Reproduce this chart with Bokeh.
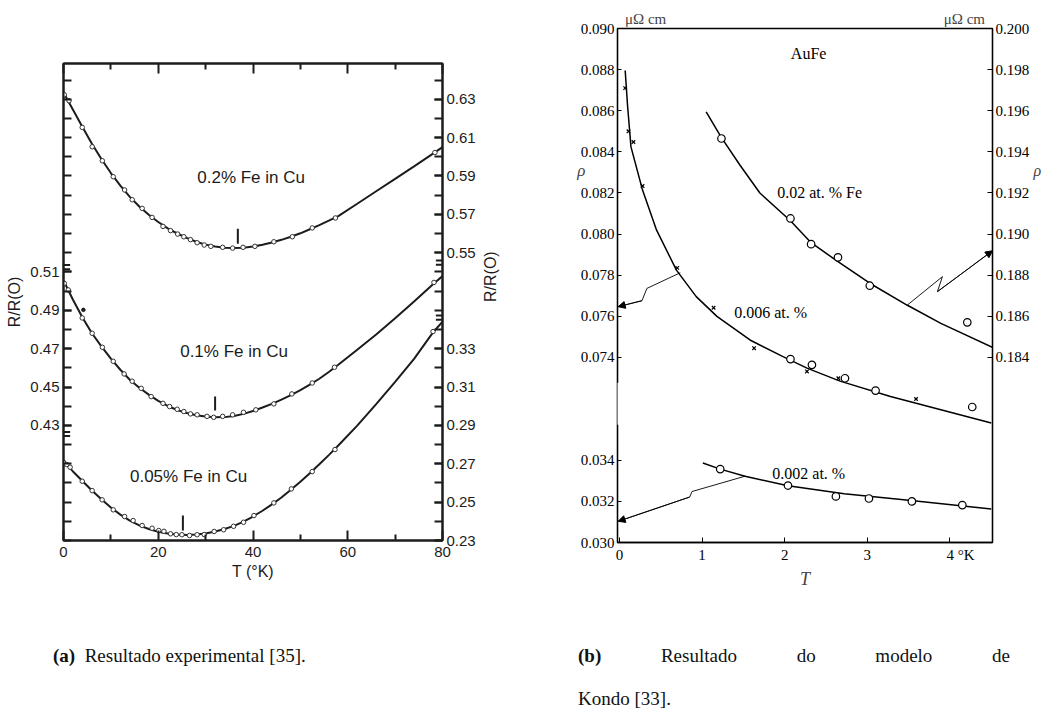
from bokeh.plotting import figure
from bokeh.models import (Range1d, LinearAxis, FixedTicker, CustomJSTickFormatter, Label,
                          Arrow, NormalHead, Div, Title)
from bokeh.layouts import column, row
from bokeh.core.properties import value
from bokeh.embed import file_html
from bokeh.resources import INLINE

# ======================= Panel (a) data: R/R(0) vs T (K) =======================
# 0.2 % Fe in Cu (right axis, upper scale)
a02_T = [0.17, 1.16, 3.95, 6.05, 8.2, 10.5, 12.9, 14.5, 16.6, 18.7, 21.0, 22.6, 24.1, 25.4,
         26.8, 28.2, 29.7, 31.1, 33.6, 35.7, 37.9, 40.4, 44.4, 48.3, 52.5, 57.4, 78.4]
a02_R = [0.6323, 0.6292, 0.6153, 0.6052, 0.5979, 0.5896, 0.5827, 0.5776, 0.5731, 0.5684, 0.5637,
         0.5615, 0.5597, 0.5583, 0.5568, 0.5552, 0.5540, 0.5533, 0.5528, 0.5524, 0.5528, 0.5533,
         0.5557, 0.5583, 0.5629, 0.5681, 0.6022]
a02_fit_T = [0, 2, 4, 6, 8, 10, 12, 14, 16, 18, 20, 22, 24, 26, 28, 30, 32, 34, 36, 38, 40, 42,
             44, 46, 48, 50, 52, 54, 56, 58, 62, 66, 70, 74, 78, 80]
a02_fit_R = [0.6335, 0.6245, 0.6155, 0.6068, 0.5988, 0.5915, 0.5850, 0.5791, 0.5741, 0.5698,
             0.5660, 0.5627, 0.5600, 0.5577, 0.5557, 0.5542, 0.5532, 0.5526, 0.5524, 0.5526,
             0.5532, 0.5541, 0.5553, 0.5567, 0.5583, 0.5601, 0.5622, 0.5644, 0.5667, 0.5691,
             0.5755, 0.5820, 0.5885, 0.5950, 0.6016, 0.6050]

# 0.1 % Fe in Cu (left axis)
a01_T = [0.17, 1.0, 3.95, 6.05, 8.2, 10.5, 12.8, 14.5, 16.4, 18.5, 21.0, 22.4, 24.0, 25.4, 26.8,
         28.2, 30.3, 31.7, 33.6, 35.7, 38.0, 40.6, 44.4, 48.2, 52.5, 57.2, 78.2]
a01_R = [0.5040, 0.5006, 0.4860, 0.4780, 0.4707, 0.4634, 0.4568, 0.4530, 0.4493, 0.4450, 0.4415,
         0.4398, 0.4384, 0.4372, 0.4360, 0.4355, 0.4347, 0.4342, 0.4347, 0.4355, 0.4368, 0.4381,
         0.4412, 0.4464, 0.4521, 0.4603, 0.5045]
a01_out_T = [4.2]
a01_out_R = [0.4902]
a01_fit_T = a02_fit_T
a01_fit_R = [0.5055, 0.4955, 0.4862, 0.4780, 0.4712, 0.4648, 0.4590, 0.4538, 0.4496, 0.4460,
             0.4428, 0.4401, 0.4380, 0.4364, 0.4353, 0.4346, 0.4342, 0.4343, 0.4349, 0.4360,
             0.4375, 0.4393, 0.4412, 0.4434, 0.4458, 0.4484, 0.4512, 0.4543, 0.4578, 0.4616,
             0.4694, 0.4774, 0.4858, 0.4946, 0.5036, 0.5078]

# 0.05 % Fe in Cu (right axis, lower scale)
a005_T = [0.0, 0.7, 1.4, 3.95, 6.05, 8.15, 10.5, 12.9, 14.7, 16.6, 18.7, 20.1, 21.2, 22.6, 23.8,
          25.0, 26.6, 28.2, 29.7, 31.8, 33.8, 35.9, 38.0, 40.2, 44.4, 48.1, 52.5, 57.3, 78.0]
a005_R = [0.2708, 0.2696, 0.2682, 0.2609, 0.2560, 0.2512, 0.2460, 0.2425, 0.2404, 0.2378, 0.2364,
          0.2352, 0.2348, 0.2335, 0.2331, 0.2330, 0.2326, 0.2330, 0.2331, 0.2347, 0.2356, 0.2374,
          0.2395, 0.2430, 0.2496, 0.2569, 0.2659, 0.2774, 0.3389]
a005_fit_T = a02_fit_T
a005_fit_R = [0.2712, 0.2660, 0.2610, 0.2561, 0.2515, 0.2472, 0.2435, 0.2404, 0.2379, 0.2360,
              0.2346, 0.2337, 0.2331, 0.2329, 0.2331, 0.2337, 0.2347, 0.2360, 0.2376, 0.2398,
              0.2425, 0.2455, 0.2488, 0.2524, 0.2564, 0.2606, 0.2650, 0.2697, 0.2745, 0.2795,
              0.2899, 0.3011, 0.3127, 0.3247, 0.3385, 0.3440]

# resistance-minimum markers (T, upper and lower end on each curve's own scale)
a_min_T = [36.8, 32.0, 25.2]
a_min_hi = [0.5625, 0.4450, 0.2430]
a_min_lo = [0.5547, 0.4377, 0.2352]

a_xticks = [0, 20, 40, 60, 80]
a_xminor = [10, 30, 50, 70]
a_left_labels = [0.43, 0.45, 0.47, 0.49, 0.51]
a_right_low_labels = [0.23, 0.25, 0.27, 0.29, 0.31, 0.33]
a_right_top_labels = [0.55, 0.57, 0.59, 0.61, 0.63]
a_break_left = [0.5125, 0.4255]     # on 0.1 % scale
a_break_right_top = [0.5448]        # on 0.2 % scale
a_break_right_low = [0.3461]        # on 0.05 % scale

a_labels = ["0.2% Fe in Cu", "0.1% Fe in Cu", "0.05% Fe in Cu"]
a_label_T = [39.6, 36.0, 26.4]
a_label_R = [0.5890, 0.4685, 0.2636]

# ======================= Panel (b) data: rho vs T (K), AuFe =======================
# 0.006 at.% (left scale)
b006_x_T = [0.07, 0.11, 0.17, 0.28, 0.70, 1.14, 1.63, 2.27, 2.65, 3.59]
b006_x_rho = [0.0871, 0.0850, 0.08448, 0.08234, 0.07836, 0.07642, 0.07445, 0.07332, 0.07299, 0.07198]
b006_o_T = [2.07, 2.33, 2.73, 3.10, 4.27]
b006_o_rho = [0.07392, 0.07364, 0.07299, 0.07239, 0.07159]
b006_fit_T = [0.07, 0.10, 0.14, 0.28, 0.45, 0.69, 0.93, 1.18, 1.58, 1.98, 2.27, 2.67, 3.28, 3.89, 4.50]
b006_fit_rho = [0.08796, 0.08618, 0.08424, 0.08214, 0.08019, 0.07825, 0.07696, 0.07600, 0.07485,
                0.07404, 0.07348, 0.07285, 0.07210, 0.07146, 0.07081]
# 0.02 at.% Fe (right scale)
b02_T = [1.235, 2.07, 2.32, 2.645, 3.03, 4.21]
b02_rho = [0.19465, 0.19076, 0.18951, 0.18887, 0.18749, 0.18571]
b02_fit_T = [1.05, 1.235, 1.46, 1.70, 2.07, 2.32, 2.645, 3.03, 3.48, 3.89, 4.52]
b02_fit_rho = [0.19594, 0.19469, 0.19335, 0.19200, 0.19065, 0.18958, 0.18866, 0.18761, 0.18655,
               0.18566, 0.18448]
# 0.002 at.% (lower left scale)
b002_T = [1.22, 2.04, 2.62, 3.02, 3.54, 4.15]
b002_rho = [0.03357, 0.03277, 0.03224, 0.03214, 0.03200, 0.03182]
b002_fit_T = [1.01, 1.22, 1.52, 2.04, 2.72, 3.53, 4.50]
b002_fit_rho = [0.03387, 0.03357, 0.03322, 0.03276, 0.03237, 0.03204, 0.03163]

# arrows pointing to the axis that each curve uses
b_arrow006_T = [0.737, 0.333, 0.273, -0.015]
b_arrow006_rho = [0.07812, 0.07736, 0.07676, 0.07647]
b_arrow02_T = [3.485, 3.909, 3.848, 4.515]
b_arrow02_rho = [0.18655, 0.18793, 0.18720, 0.18919]
b_arrow002_T = [1.525, 0.879, 0.850, -0.015]
b_arrow002_rho = [0.03323, 0.03248, 0.03221, 0.03103]

b_xticks = [0, 1, 2, 3, 4]
b_left_upper = [0.074, 0.076, 0.078, 0.080, 0.082, 0.084, 0.086, 0.088, 0.090]
b_left_lower = [0.030, 0.032, 0.034]
b_right = [0.184, 0.186, 0.188, 0.190, 0.192, 0.194, 0.196, 0.198, 0.200]
b_rho_left_at = 0.0831      # height of the "rho" symbol beside the left scale
b_rho_right_at = 0.1931     # height of the "rho" symbol beside the right scale
b_gap_mid = 0.07175         # middle of the break in the left axis

# ranges
A_X = (0, 80)
A_LOW = (0.23, 0.4786)
A_MID = (0.37, 0.6186)
A_TOP = (0.40, 0.6486)
B_X = (-0.023, 4.515)
B_MAIN = (0.065, 0.090)
B_RIGHT = (0.175, 0.200)
B_LOW = (0.030, 0.055)

SANS = "Liberation Sans"
SERIF = "Liberation Serif"
INK = "#1c1c1c"

# ======================= Panel (a) figure =======================
pa = figure(width=510, height=591, x_range=Range1d(*A_X), y_range=Range1d(*A_LOW),
            x_axis_location=None, y_axis_location=None, output_backend="svg",
            toolbar_location=None, min_border_left=63, min_border_right=66,
            min_border_top=63, min_border_bottom=51, margin=0, frame_align=False)
pa.extra_y_ranges = {"mid": Range1d(*A_MID), "top": Range1d(*A_TOP)}
for g in pa.grid:
    g.visible = False
pa.outline_line_color = INK
pa.outline_line_width = 2


def style_a(ax, tick_len=8, minor_len=8):
    ax.axis_line_width = 2
    ax.axis_line_color = INK
    ax.major_tick_in = tick_len
    ax.major_tick_out = 0
    ax.minor_tick_in = minor_len
    ax.minor_tick_out = 0
    ax.major_tick_line_width = 2
    ax.minor_tick_line_width = 2
    ax.major_tick_line_color = INK
    ax.minor_tick_line_color = INK
    ax.major_label_text_font = SANS
    ax.major_label_text_font_size = "15px"
    ax.major_label_text_color = INK
    ax.axis_label_text_font = SANS
    ax.axis_label_text_font_size = "16px"
    ax.axis_label_text_font_style = "normal"
    ax.axis_label_text_color = INK
    return ax


xb = style_a(LinearAxis(ticker=FixedTicker(ticks=a_xticks, minor_ticks=a_xminor),
                        axis_label="T (°K)"), 10, 6)
xb.major_label_standoff = 6
xb.axis_label_standoff = 3
pa.add_layout(xb, "below")
xt = style_a(LinearAxis(ticker=FixedTicker(ticks=a_xticks, minor_ticks=a_xminor),
                        formatter=CustomJSTickFormatter(code="return '';")), 10, 6)
pa.add_layout(xt, "above")

mid_minor = [round(A_MID[0] + 0.01 * i, 2) for i in range(25)]
yl = style_a(LinearAxis(y_range_name="mid",
                        ticker=FixedTicker(ticks=a_left_labels, minor_ticks=mid_minor),
                        formatter=CustomJSTickFormatter(code="return tick.toFixed(2);"),
                        axis_label="R/R(O)"), 8, 8)
yl.major_label_standoff = 4
yl.axis_label_standoff = 4
pa.add_layout(yl, "left")

TOP_OFF = round(A_TOP[0] - A_LOW[0], 2)
right_ticks = a_right_low_labels + [round(v - TOP_OFF, 2) for v in a_right_top_labels]
low_minor = [round(A_LOW[0] + 0.01 * i, 2) for i in range(25)]
SPLIT = (a_right_low_labels[-1] + a_right_top_labels[0] - TOP_OFF) / 2
yr = style_a(LinearAxis(ticker=FixedTicker(ticks=right_ticks, minor_ticks=low_minor),
                        formatter=CustomJSTickFormatter(
                            code=f"return (tick > {SPLIT} ? tick + {TOP_OFF} : tick).toFixed(2);"),
                        axis_label="R/R(O)"), 8, 8)
yr.major_label_standoff = 4
yr.axis_label_standoff = 12
yr.axis_label_orientation = 1.5707963
pa.add_layout(yr, "right")

# curves
pa.line(a02_fit_T, a02_fit_R, y_range_name="top", line_color=INK, line_width=2)
pa.line(a01_fit_T, a01_fit_R, y_range_name="mid", line_color=INK, line_width=2)
pa.line(a005_fit_T, a005_fit_R, line_color=INK, line_width=2)
pa.scatter(a02_T, a02_R, y_range_name="top", marker="circle", size=4.5, fill_color="white",
           line_color="#333333", line_width=1)
pa.scatter(a01_T, a01_R, y_range_name="mid", marker="circle", size=4.5, fill_color="white",
           line_color="#333333", line_width=1)
pa.scatter(a01_out_T, a01_out_R, y_range_name="mid", marker="circle", size=3.5,
           fill_color=INK, line_color=INK)
pa.scatter(a005_T, a005_R, marker="circle", size=4.5, fill_color="white",
           line_color="#333333", line_width=1)

for i, rn in enumerate(["top", "mid", "default"]):
    pa.segment(x0=[a_min_T[i]], y0=[a_min_lo[i]], x1=[a_min_T[i]], y1=[a_min_hi[i]],
               y_range_name=rn, line_color=INK, line_width=2)

for i, rn in enumerate(["top", "mid", "default"]):
    pa.text(x=[a_label_T[i]], y=[a_label_R[i]], text=[a_labels[i]], y_range_name=rn,
            text_font=value(SANS), text_font_size="17px", text_color=INK,
            text_align="center", text_baseline="middle")

# axis break marks (double dashes across the axis line)
BRK_DY = 0.0011
BRK_DX = 1.4
for vals, rn, x_edge, sgn in [(a_break_left, "mid", A_X[0], 1),
                              (a_break_right_top, "top", A_X[1], -1),
                              (a_break_right_low, "default", A_X[1], -1)]:
    ys = [v + d for v in vals for d in (-BRK_DY, BRK_DY)]
    pa.segment(x0=[x_edge] * len(ys), y0=ys, x1=[x_edge + sgn * BRK_DX] * len(ys), y1=ys,
               y_range_name=rn, line_color=INK, line_width=2)

# ======================= Panel (b) figure =======================
pb = figure(width=534, height=591, x_range=Range1d(*B_X), y_range=Range1d(*B_MAIN),
            x_axis_location=None, y_axis_location=None, output_backend="svg",
            toolbar_location=None, min_border_left=107, min_border_right=50,
            min_border_top=28, min_border_bottom=47, margin=0, frame_align=False)
pb.extra_y_ranges = {"right": Range1d(*B_RIGHT), "low": Range1d(*B_LOW)}
for g in pb.grid:
    g.visible = False
pb.outline_line_color = "black"
pb.outline_line_width = 1.3


def style_b(ax, tick_len=4):
    ax.axis_line_width = 1.3
    ax.axis_line_color = "black"
    ax.major_tick_in = tick_len
    ax.major_tick_out = 0
    ax.minor_tick_in = 0
    ax.minor_tick_out = 0
    ax.major_tick_line_width = 1
    ax.major_label_text_font = SERIF
    ax.major_label_text_font_size = "15px"
    ax.major_label_text_color = "black"
    ax.axis_label_text_font = SERIF
    ax.axis_label_text_font_size = "18px"
    ax.axis_label_text_font_style = "italic"
    return ax


# unit labels above the frame
pb.add_layout(Title(text="μΩ cm" + "\u2003" * 18 + "\u2002" + "μΩ cm", align="center",
                    text_font=SERIF, text_font_size="15px", text_font_style="normal",
                    standoff=4), "above")

LOW_OFF = round(B_MAIN[0] - B_LOW[0], 3)
last_tick = b_xticks[-1]
bx = style_b(LinearAxis(ticker=FixedTicker(ticks=b_xticks),
                        formatter=CustomJSTickFormatter(
                            code=f"return tick == {last_tick} ? '\\u2007\\u2007\\u2005\\u2006' + tick.toFixed(0) + ' °K' : tick.toFixed(0);"),
                        axis_label="T"), 5)
bx.major_label_standoff = 4
bx.axis_label_standoff = 3
pb.add_layout(bx, "below")

left_ticks = [round(v + LOW_OFF, 3) for v in b_left_lower] + b_left_upper
bl = style_b(LinearAxis(ticker=FixedTicker(ticks=left_ticks),
                        formatter=CustomJSTickFormatter(
                            code=f"return (tick < {B_MAIN[0] + 0.006} ? tick - {LOW_OFF} : tick).toFixed(3);")), 4)
bl.major_label_standoff = 3
pb.add_layout(bl, "left")
bl2 = LinearAxis(ticker=FixedTicker(ticks=[b_rho_left_at]),
                 formatter=CustomJSTickFormatter(code="return 'ρ';"),
                 axis_line_color=None, major_tick_line_color=None, minor_tick_line_color=None,
                 major_label_text_font=SERIF, major_label_text_font_style="italic",
                 major_label_text_font_size="17px", major_label_standoff=-14)
pb.add_layout(bl2, "left")

br = style_b(LinearAxis(y_range_name="right", ticker=FixedTicker(ticks=b_right),
                        formatter=CustomJSTickFormatter(code="return tick.toFixed(3);")), 5)
br.major_label_standoff = 3
pb.add_layout(br, "right")
br2 = LinearAxis(y_range_name="right", ticker=FixedTicker(ticks=[b_rho_right_at]),
                 formatter=CustomJSTickFormatter(code="return 'ρ';"),
                 axis_line_color=None, major_tick_line_color=None, minor_tick_line_color=None,
                 major_label_text_font=SERIF, major_label_text_font_style="italic",
                 major_label_text_font_size="16px", major_label_standoff=-5)
pb.add_layout(br2, "right")

# curves
pb.line(b006_fit_T, b006_fit_rho, line_color="black", line_width=1.5)
pb.line(b02_fit_T, b02_fit_rho, y_range_name="right", line_color="black", line_width=1.5)
pb.line(b002_fit_T, b002_fit_rho, y_range_name="low", line_color="black", line_width=1.5)
pb.scatter(b006_x_T, b006_x_rho, marker="x", size=5, line_color="black", line_width=1.2)
pb.scatter(b006_o_T, b006_o_rho, marker="circle", size=7.5, fill_color="white",
           line_color="black", line_width=1.2)
pb.scatter(b02_T, b02_rho, y_range_name="right", marker="circle", size=7.5, fill_color="white",
           line_color="black", line_width=1.2)
pb.scatter(b002_T, b002_rho, y_range_name="low", marker="circle", size=7.5, fill_color="white",
           line_color="black", line_width=1.2)

# arrows
for Ts, Rs, rn in [(b_arrow006_T, b_arrow006_rho, "default"),
                   (b_arrow02_T, b_arrow02_rho, "right"),
                   (b_arrow002_T, b_arrow002_rho, "low")]:
    pb.line(Ts, Rs, y_range_name=rn, line_color="black", line_width=0.9)
    pb.add_layout(Arrow(end=NormalHead(size=7, fill_color="black", line_color="black"),
                        x_start=Ts[-2], y_start=Rs[-2], x_end=Ts[-1], y_end=Rs[-1],
                        y_range_name=rn, line_color="black", line_width=0.9))

pb.text(x=[2.29], y=[0.08879], text=["AuFe"], text_font=value(SERIF), text_font_size="16px",
        text_align="center", text_baseline="middle")
pb.text(x=[1.91], y=[0.08204], text=["0.02 at.  %  Fe"], text_font=value(SERIF),
        text_font_size="16px", text_align="left", text_baseline="middle")
pb.text(x=[1.39], y=[0.07617], text=["0.006 at.  %"], text_font=value(SERIF),
        text_font_size="16px", text_align="left", text_baseline="middle")
pb.text(x=[1.85], y=[0.03335], y_range_name="low", text=["0.002 at.  %"],
        text_font=value(SERIF), text_font_size="16px", text_align="left", text_baseline="middle")

# gap in the broken left axis
pb.add_layout(Label(x=B_X[0], y=b_gap_mid, text="\u00a0", text_font=SERIF, text_font_size="38px",
                    text_align="center", text_baseline="middle", background_fill_color="white"))

# ======================= captions =======================
cap_style = "font-family:'Liberation Serif';font-size:19px;color:#111;line-height:22px;"
div_a = Div(text=f'<div style="{cap_style}padding:54px 0 0 53px;"><b>(a)</b>&nbsp;&nbsp;Resultado experimental [35].</div>',
            width=510, height=128, margin=0)
div_b = Div(text=f'<div style="{cap_style}padding:54px 0 0 68px;">'
                 '<div style="width:432px;text-align:justify;text-align-last:justify;"><b>(b)</b> Resultado do modelo de</div>'
                 '<div style="width:432px;margin-top:21px;">Kondo [33].</div></div>',
            width=534, height=128, margin=0)

p = column(row(pa, pb, spacing=0), row(div_a, div_b, spacing=0), spacing=0)
open("out.html", "w").write(file_html(p, INLINE))
